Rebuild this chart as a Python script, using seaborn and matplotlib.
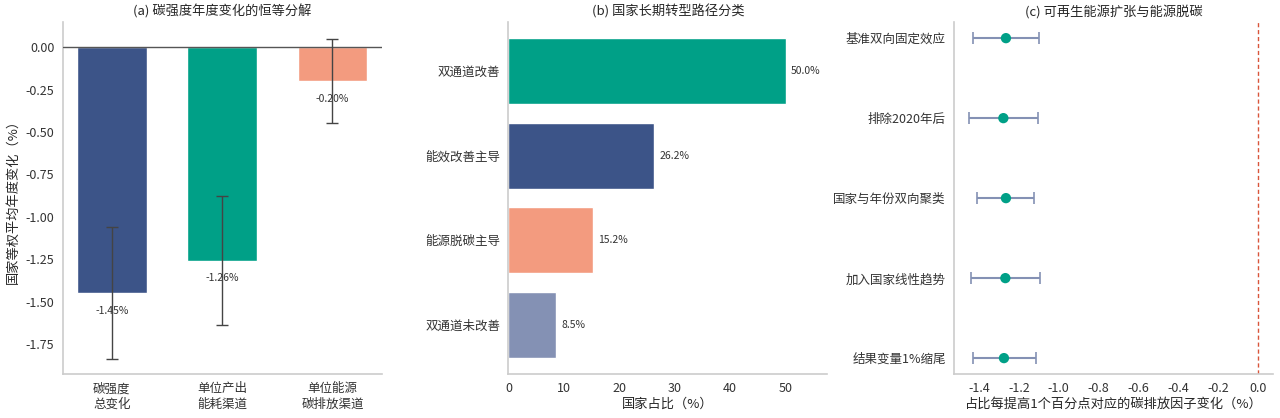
import numpy as np
import pandas as pd
import seaborn as sns
import matplotlib.pyplot as plt

# (a) 碳强度年度变化的恒等分解
decomp_labels = ['碳强度\n总变化', '单位产出\n能耗渠道', '单位能源\n碳排放渠道']
decomp_values = [-1.45, -1.26, -0.20]
decomp_err = [0.39, 0.38, 0.25]

# (b) 国家长期转型路径分类
path_labels = ['双通道改善', '能效改善主导', '能源脱碳主导', '双通道未改善']
path_share = [50.0, 26.2, 15.2, 8.5]

# (c) 可再生能源扩张与能源脱碳
robust_labels = ['基准双向固定效应', '排除2020年后', '国家与年份双向聚类', '加入国家线性趋势', '结果变量1%缩尾']
robust_coef = [-1.265, -1.278, -1.265, -1.268, -1.275]
robust_lo = [-1.43, -1.448, -1.41, -1.44, -1.43]
robust_hi = [-1.10, -1.103, -1.122, -1.095, -1.115]
robust_ticks = [-1.4, -1.2, -1.0, -0.8, -0.6, -0.4, -0.2, 0.0]

NAVY = '#3C5488'
TEAL = '#00A087'
SALMON = '#F39B7F'
SLATE = '#8491B4'

sns.set_style('white')
plt.rcParams['font.family'] = ['Noto Sans CJK SC', 'DejaVu Sans']
plt.rcParams['axes.unicode_minus'] = False
plt.rcParams['axes.edgecolor'] = '#cccccc'
plt.rcParams['axes.linewidth'] = 1.2
plt.rcParams['xtick.color'] = '#333333'
plt.rcParams['ytick.color'] = '#333333'

fig, axes = plt.subplots(1, 3, figsize=(12.8, 4.18), dpi=100)
fig.subplots_adjust(left=0.049, right=0.9945, bottom=0.105, top=0.947, wspace=0.398)

# ---- (a)
ax = axes[0]
df_a = pd.DataFrame({'item': decomp_labels, 'value': decomp_values})
sns.barplot(data=df_a, x='item', y='value', hue='item', palette=[NAVY, TEAL, SALMON],
            width=0.63, legend=False, ax=ax, saturation=1)
xs = np.arange(len(decomp_values))
ax.errorbar(xs, decomp_values, yerr=decomp_err, fmt='none', ecolor='#444444',
            elinewidth=1, capsize=4, capthick=1, zorder=5)
ax.axhline(0, color='#555555', lw=1, zorder=4)
for x, v in zip(xs, decomp_values):
    ax.annotate(f'{v:.2f}%', (x, v), xytext=(0, -9), textcoords='offset points',
                ha='center', va='top', fontsize=7.5, color='#333333')
ax.set_xlim(-0.445, 2.445)
ax.set_ylim(-1.927, 0.147)
yt = [0, -0.25, -0.5, -0.75, -1.0, -1.25, -1.5, -1.75]
ax.set_yticks(yt)
ax.set_yticklabels([f'{t:.2f}' if t != 0 else '0.00' for t in yt])
ax.set_xlabel('')
ax.set_ylabel('国家等权平均年度变化（%）', fontsize=9.5)
ax.set_title('(a) 碳强度年度变化的恒等分解', fontsize=9.5, pad=5)

# ---- (b)
ax = axes[1]
df_b = pd.DataFrame({'path': path_labels, 'share': path_share})
sns.barplot(data=df_b, x='share', y='path', hue='path', palette=[TEAL, NAVY, SALMON, SLATE],
            width=0.78, legend=False, ax=ax, saturation=1, orient='h')
for y, v in enumerate(path_share):
    ax.annotate(f'{v:.1f}%', (v, y), xytext=(4, 0), textcoords='offset points',
                ha='left', va='center', fontsize=7.5, color='#333333')
ax.set_xlim(0, 57.5)
ax.set_ylim(3.586, -0.58)
ax.set_xticks([0, 10, 20, 30, 40, 50])
ax.set_ylabel('')
ax.set_xlabel('国家占比（%）', fontsize=9.5, labelpad=2)
ax.set_title('(b) 国家长期转型路径分类', fontsize=9.5, pad=5)

# ---- (c)
ax = axes[2]
df_c = pd.DataFrame({'spec': robust_labels, 'coef': robust_coef,
                     'lo': robust_lo, 'hi': robust_hi})
ys = np.arange(len(robust_labels))
ax.errorbar(df_c['coef'], ys, xerr=[df_c['coef'] - df_c['lo'], df_c['hi'] - df_c['coef']],
            fmt='none', ecolor=SLATE, elinewidth=1.5, capsize=4, capthick=1.2, zorder=2)
sns.scatterplot(x=df_c['coef'], y=ys, color=TEAL, s=55, edgecolor='none', zorder=3, ax=ax)
ax.axvline(0, color='#d9553b', lw=1, ls=(0, (3, 2)))
ax.set_yticks(ys)
ax.set_yticklabels(robust_labels)
ax.set_ylim(4.2, -0.2)
ax.set_xlim(-1.525, 0.075)
ax.set_xticks(robust_ticks)
ax.set_xticklabels([f'{t:.1f}' for t in robust_ticks])
ax.set_ylabel('')
ax.set_xlabel('占比每提高1个百分点对应的碳排放因子变化（%）', fontsize=9.5, labelpad=2)
ax.set_title('(c) 可再生能源扩张与能源脱碳', fontsize=9.5, pad=5)

for ax in axes:
    sns.despine(ax=ax)
    ax.tick_params(length=0, labelsize=9, pad=6)

fig.savefig('out.png', dpi=100)
